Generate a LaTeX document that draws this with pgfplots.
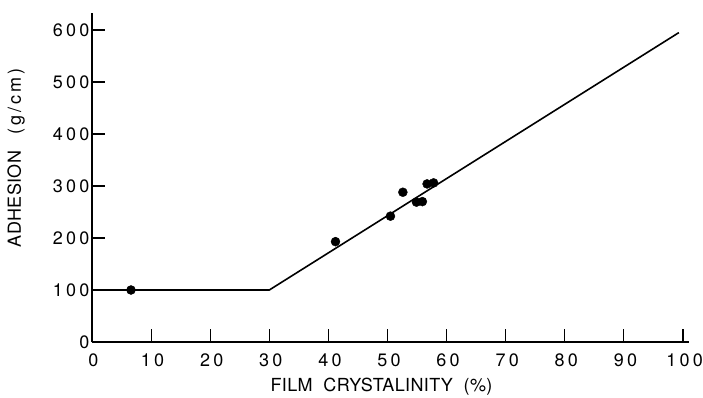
\documentclass[border=0pt]{standalone}
\usepackage{fontspec}
\setmainfont{TeX Gyre Heros}
\usepackage{pgfplots}
\pgfplotsset{compat=1.18}
\newfontfamily\tickfont[LetterSpace=18]{TeX Gyre Heros}
\newfontfamily\labfont[LetterSpace=2]{TeX Gyre Heros}
\begin{document}
\begin{tikzpicture}
\useasboundingbox (-92pt,-55pt) rectangle (611pt,342pt);
\begin{axis}[
  at={(0,0)}, anchor=origin,
  x=5.91pt, y=0.52pt,
  xmin=0, xmax=101, ymin=0, ymax=632,
  axis x line=bottom, axis y line=left,
  axis line style={-, line width=1.3pt},
  xtick={0,10,...,100}, ytick={0,100,...,600},
  tick align=inside, major tick length=13pt,
  tick style={line width=1.1pt, black},
  /pgf/number format/assume math mode=true,
  tick label style={font=\tickfont\fontsize{18}{18}\selectfont},
  xticklabel style={yshift=-8pt, xshift=1.5pt},
  yticklabel style={xshift=1pt},
  xlabel={FILM\ \ CRYSTALINITY\ \ (\%)},
  ylabel={ADHESION\ \ \ (\,g\,/\,c\,m\,)},
  label style={font=\labfont\fontsize{18}{18}\selectfont},
  xlabel style={at={(axis description cs:0.485,0)}, anchor=center, yshift=-45pt},
  ylabel style={at={(axis description cs:-0.127,0.56)}, anchor=center, rotate=0},
  clip=false,
]
\addplot[black, line width=1.6pt, mark=none] coordinates {(0,100) (30,100) (99.3,595)};
\addplot[only marks, mark=*, mark size=4.5pt, black] coordinates {
  (6.6,100) (41.2,193) (50.5,242) (52.6,288) (54.9,269) (55.9,270) (56.7,304) (57.8,306)
};
\end{axis}
\end{tikzpicture}
\end{document}
